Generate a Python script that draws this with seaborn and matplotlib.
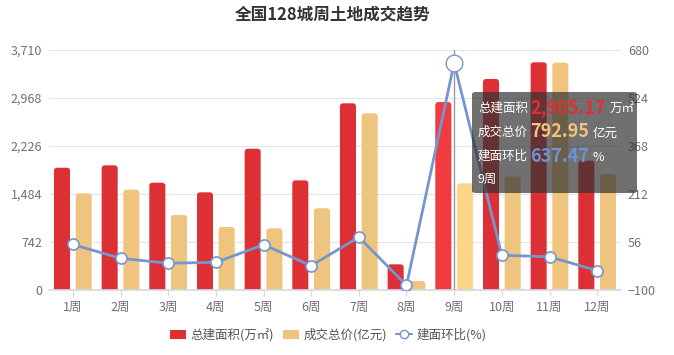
import numpy as np
import pandas as pd
import matplotlib
matplotlib.use("Agg")
import matplotlib.pyplot as plt
from matplotlib.patches import FancyBboxPatch, Patch
from matplotlib.lines import Line2D
from matplotlib.ticker import FuncFormatter
import seaborn as sns

# ── data ───────────────────────────────────────────────────
weeks = ["1周", "2周", "3周", "4周", "5周", "6周", "7周", "8周", "9周", "10周", "11周", "12周"]
area = [1890, 1927, 1659, 1510, 2184, 1695, 2886, 397, 2905.17, 3262, 3520, 1999]      # 总建面积(万㎡)
price = [1494, 1551, 1159, 974, 953, 1263, 2731, 139, 1649, 1752, 3515, 1793]          # 成交总价(亿元)
ratio = [48, 3, -13, -10, 47, -21, 72, -85, 637.47, 13, 8, -37]                        # 建面环比(%)

left_ticks = [0, 742, 1484, 2226, 2968, 3710]
right_ticks = [-100, 56, 212, 368, 524, 680]

hover_idx = 8
tip_area, tip_price, tip_ratio = "2,905.17", "792.95", "637.47"

AREA_NAME = "总建面积(万㎡)"
PRICE_NAME = "成交总价(亿元)"
RATIO_NAME = "建面环比(%)"

RED, RED_HI = "#dc3035", "#ef3a40"
YEL, YEL_HI = "#efc47e", "#fdd588"
BLUE = "#7496cf"
GRID = "#e0e6f1"
LABEL = "#6e7079"

sns.set_theme(style="white")
plt.rcParams["font.family"] = ["Noto Sans CJK SC", "DejaVu Sans"]

W, H = 674, 355
fx = lambda px: px / W
fy = lambda py: 1 - py / H

fig = plt.figure(figsize=(W / 100, H / 100), dpi=100)
ax = fig.add_axes([fx(49), fy(290), fx(621) - fx(49), fy(50) - fy(290)])

# ── bars ───────────────────────────────────────────────────
df = pd.DataFrame({"week": weeks, AREA_NAME: area, PRICE_NAME: price})
long = df.melt(id_vars="week", var_name="series", value_name="value")
sns.barplot(data=long, x="week", y="value", hue="series",
            palette={AREA_NAME: RED, PRICE_NAME: YEL},
            width=0.91, gap=0.26, saturation=1, legend=False, ax=ax)

# rounded tops: swap each rectangle for a rounded box of the same geometry
rx, ry = 3 / 47.6, 3 * 3710 / 240
for ci, cont in enumerate(ax.containers):
    for i, rect in enumerate(cont):
        color = rect.get_facecolor()
        if i == hover_idx:
            color = RED_HI if ci == 0 else YEL_HI
        x, w, h = rect.get_x(), rect.get_width(), rect.get_height()
        rect.set_visible(False)
        ax.add_patch(FancyBboxPatch((x, -ry), w, h + ry,
                                    boxstyle=f"round,pad=0,rounding_size={rx}",
                                    mutation_aspect=ry / rx,
                                    facecolor=color, edgecolor="none", zorder=2))

ax.set_xlim(-0.5, len(weeks) - 0.5)
ax.set_ylim(left_ticks[0], left_ticks[-1])
ax.set_yticks(left_ticks)
ax.yaxis.set_major_formatter(FuncFormatter(lambda v, _: f"{v:,.0f}"))
ax.grid(axis="y", color=GRID, linewidth=0.8)
ax.set_axisbelow(True)
ax.set_xlabel("")
ax.set_ylabel("")
for s in ["top", "left", "right"]:
    ax.spines[s].set_visible(False)
ax.spines["bottom"].set_color("#d5dae3")
ax.tick_params(axis="y", length=0, pad=5, labelsize=9, labelcolor=LABEL)
ax.tick_params(axis="x", length=4, width=0.8, color="#d5dae3", direction="out",
               pad=4, labelsize=9, labelcolor=LABEL, bottom=True)

# hover pointer
ax.axvline(hover_idx, color="#9a9a9a", linewidth=1, zorder=3)

# ── line on right axis ─────────────────────────────────────
ax2 = ax.twinx()
xs = np.arange(len(weeks))
sns.lineplot(x=xs, y=ratio, color=BLUE, linewidth=2, marker="o", markersize=8,
             markerfacecolor="white", markeredgecolor=BLUE, markeredgewidth=1.2,
             ax=ax2, zorder=3)
ax2.plot(xs[hover_idx], ratio[hover_idx], "o", markersize=12,
         markerfacecolor="white", markeredgecolor=BLUE, markeredgewidth=1, zorder=4)
ax2.set_ylim(right_ticks[0], right_ticks[-1])
ax2.set_yticks(right_ticks)
for s in ax2.spines.values():
    s.set_visible(False)
ax2.tick_params(axis="y", length=0, pad=5, labelsize=9, labelcolor=LABEL)
ax2.grid(False)

# ── title & legend ─────────────────────────────────────────
fig.text(fx(333), fy(14), "全国128城周土地成交趋势", ha="center", va="center",
         fontsize=12, fontweight="bold", color="#333333")

handles = [
    Patch(facecolor=RED, edgecolor="none", label=AREA_NAME),
    Patch(facecolor=YEL, edgecolor="none", label=PRICE_NAME),
    Line2D([], [], color=BLUE, linewidth=1.5, marker="o", markersize=6,
           markerfacecolor="white", markeredgecolor=BLUE, label=RATIO_NAME),
]
fig.legend(handles=handles, loc="center", bbox_to_anchor=(fx(328), fy(335)),
           ncol=3, frameon=False, fontsize=9, labelcolor="#555555",
           handlelength=1.3, handleheight=0.8, handletextpad=0.35, columnspacing=0.7)

# ── tooltip ────────────────────────────────────────────────
fig.add_artist(FancyBboxPatch((fx(472), fy(193)), fx(637) - fx(472), fy(92) - fy(193),
                              boxstyle="round,pad=0,rounding_size=0.006",
                              transform=fig.transFigure, facecolor=(0.2, 0.2, 0.2, 0.7),
                              edgecolor="none", zorder=5))
rows = [
    (108, "总建面积", tip_area, RED, "万㎡"),
    (132, "成交总价", tip_price, "#f1c27b", "亿元"),
    (156, "建面环比", tip_ratio, "#6d92d6", "%"),
]
for y, name, val, col, unit in rows:
    fig.text(fx(478), fy(y), name, ha="left", va="center", fontsize=9, color="white", zorder=6)
    t = fig.text(fx(530), fy(y), val, ha="left", va="center", fontsize=13,
                 fontweight="bold", color=col, zorder=6)
    fig.canvas.draw()
    bb = t.get_window_extent()
    fig.text(fx(bb.x1 + 4), fy(y + 1), unit, ha="left", va="center", fontsize=9,
             color="white", zorder=6)
fig.text(fx(478), fy(179), weeks[hover_idx], ha="left", va="center", fontsize=9,
         color="white", zorder=6)

fig.savefig("out.png", dpi=100)
